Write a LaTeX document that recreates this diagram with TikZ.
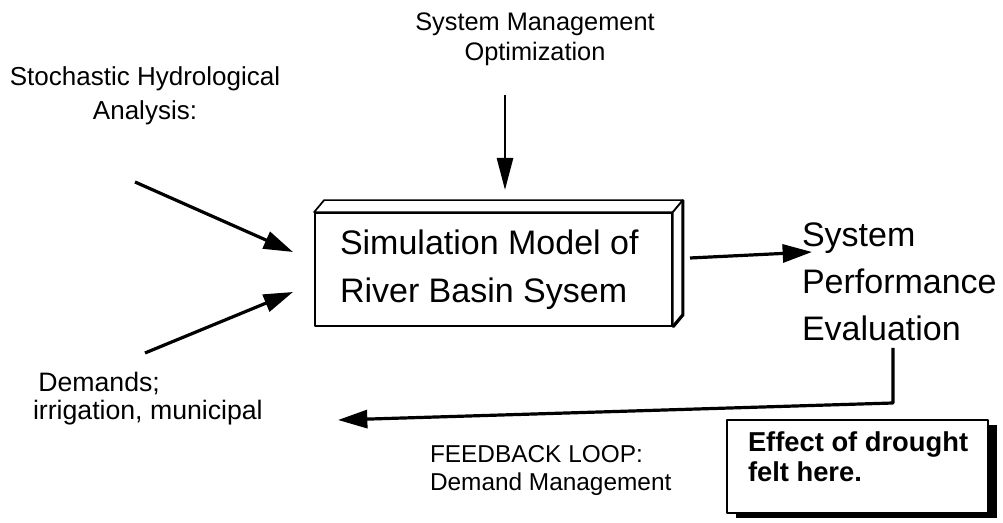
\documentclass[tikz,border=0pt]{standalone}
\usepackage{fontspec}
\setmainfont{Liberation Sans}
\usetikzlibrary{arrows.meta,calc}
\begin{document}
\begin{tikzpicture}[x=0.75pt,y=-0.75pt,
  lbl/.style={inner sep=0pt,outer sep=0pt},
  arr/.style={line width=2.4pt,-{Triangle[length=22pt,width=13.5pt]}},
  boxline/.style={line width=1.3pt,line join=round}]
\useasboundingbox[fill=white] (0,0) rectangle (1003,523);

% text nodes
\node[lbl,anchor=north,align=center,font=\fontsize{19pt}{22.5pt}\selectfont] (opt) at (535,13) {System Management\\Optimization};
\node[lbl,anchor=north,align=center,font=\fontsize{19.5pt}{25pt}\selectfont] (stoch) at (145,67) {Stochastic Hydrological\\Analysis:};
\node[lbl,anchor=north west,align=left,font=\fontsize{20pt}{21pt}\selectfont] (dem) at (33,372) {\hspace*{4pt}Demands;\\irrigation, municipal};
\node[lbl,anchor=north west,align=left,font=\fontsize{25.5pt}{35pt}\selectfont] (perf) at (802,223) {System\\Performance\\Evaluation};
\node[lbl,anchor=north west,align=left,font=\fontsize{18.3pt}{21pt}\selectfont] (fb) at (430,445) {FEEDBACK LOOP:\\Demand Management};

% simulation model box (3D)
\node[boxline,draw,fill=white,minimum width=267.75pt,minimum height=84.75pt,inner sep=0pt] (model) at (493.5,269.5) {};
\draw[boxline,fill=white] (model.north west) -- ++(10,-12) -- ($(model.north east)+(10,-12)$) -- (model.north east) -- cycle;
\draw[boxline,fill=white] (model.north east) -- ++(10,-12) -- ($(model.south east)+(10,-12)$) -- (model.south east) -- cycle;
\draw[line width=2.4pt] ($(model.north east)+(10,-12)$) -- ($(model.south east)+(10,-12)$) -- (model.south east);
\node[lbl,anchor=north west,align=left,font=\fontsize{25.5pt}{36pt}\selectfont] (mtext) at (340,230) {Simulation Model of\\River Basin Sysem};

% drought box with shadow
\coordinate (dA) at (727,420);
\coordinate (dB) at (988,513);
\fill[black] ($(dA)+(9,5)$) rectangle ($(dB)+(9,5)$);
\node[boxline,draw,fill=white,fit/.style={},minimum width=195.75pt,minimum height=69.75pt,inner sep=0pt] (drought) at (857.5,466.5) {};
\node[lbl,anchor=north west,align=left,font=\bfseries\fontsize{20.5pt}{22.5pt}\selectfont] (dtext) at (748,432) {Effect of drought\\felt here.};

% connector endpoints
\coordinate (s1) at (135,182);
\coordinate (s2) at (293,252);
\coordinate (d1) at (145,353);
\coordinate (d2) at (293,292);
\coordinate (o1) at (505,95);
\coordinate (o2) at (505,190);
\coordinate (m1) at (690,258);
\coordinate (m2) at (812,252);
\coordinate (f1) at (893,348);
\coordinate (f2) at (893,403);
\coordinate (f3) at (338,420);

\draw[arr] (s1) -- (s2);
\draw[arr] (d1) -- (d2);
\draw[line width=2pt,-{Triangle[length=24pt,width=12pt]}] (o1) -- (o2);
\draw[arr] (m1) -- (m2);
\draw[arr,line join=round] (f1) -- (f2) -- (f3);
\end{tikzpicture}
\end{document}
